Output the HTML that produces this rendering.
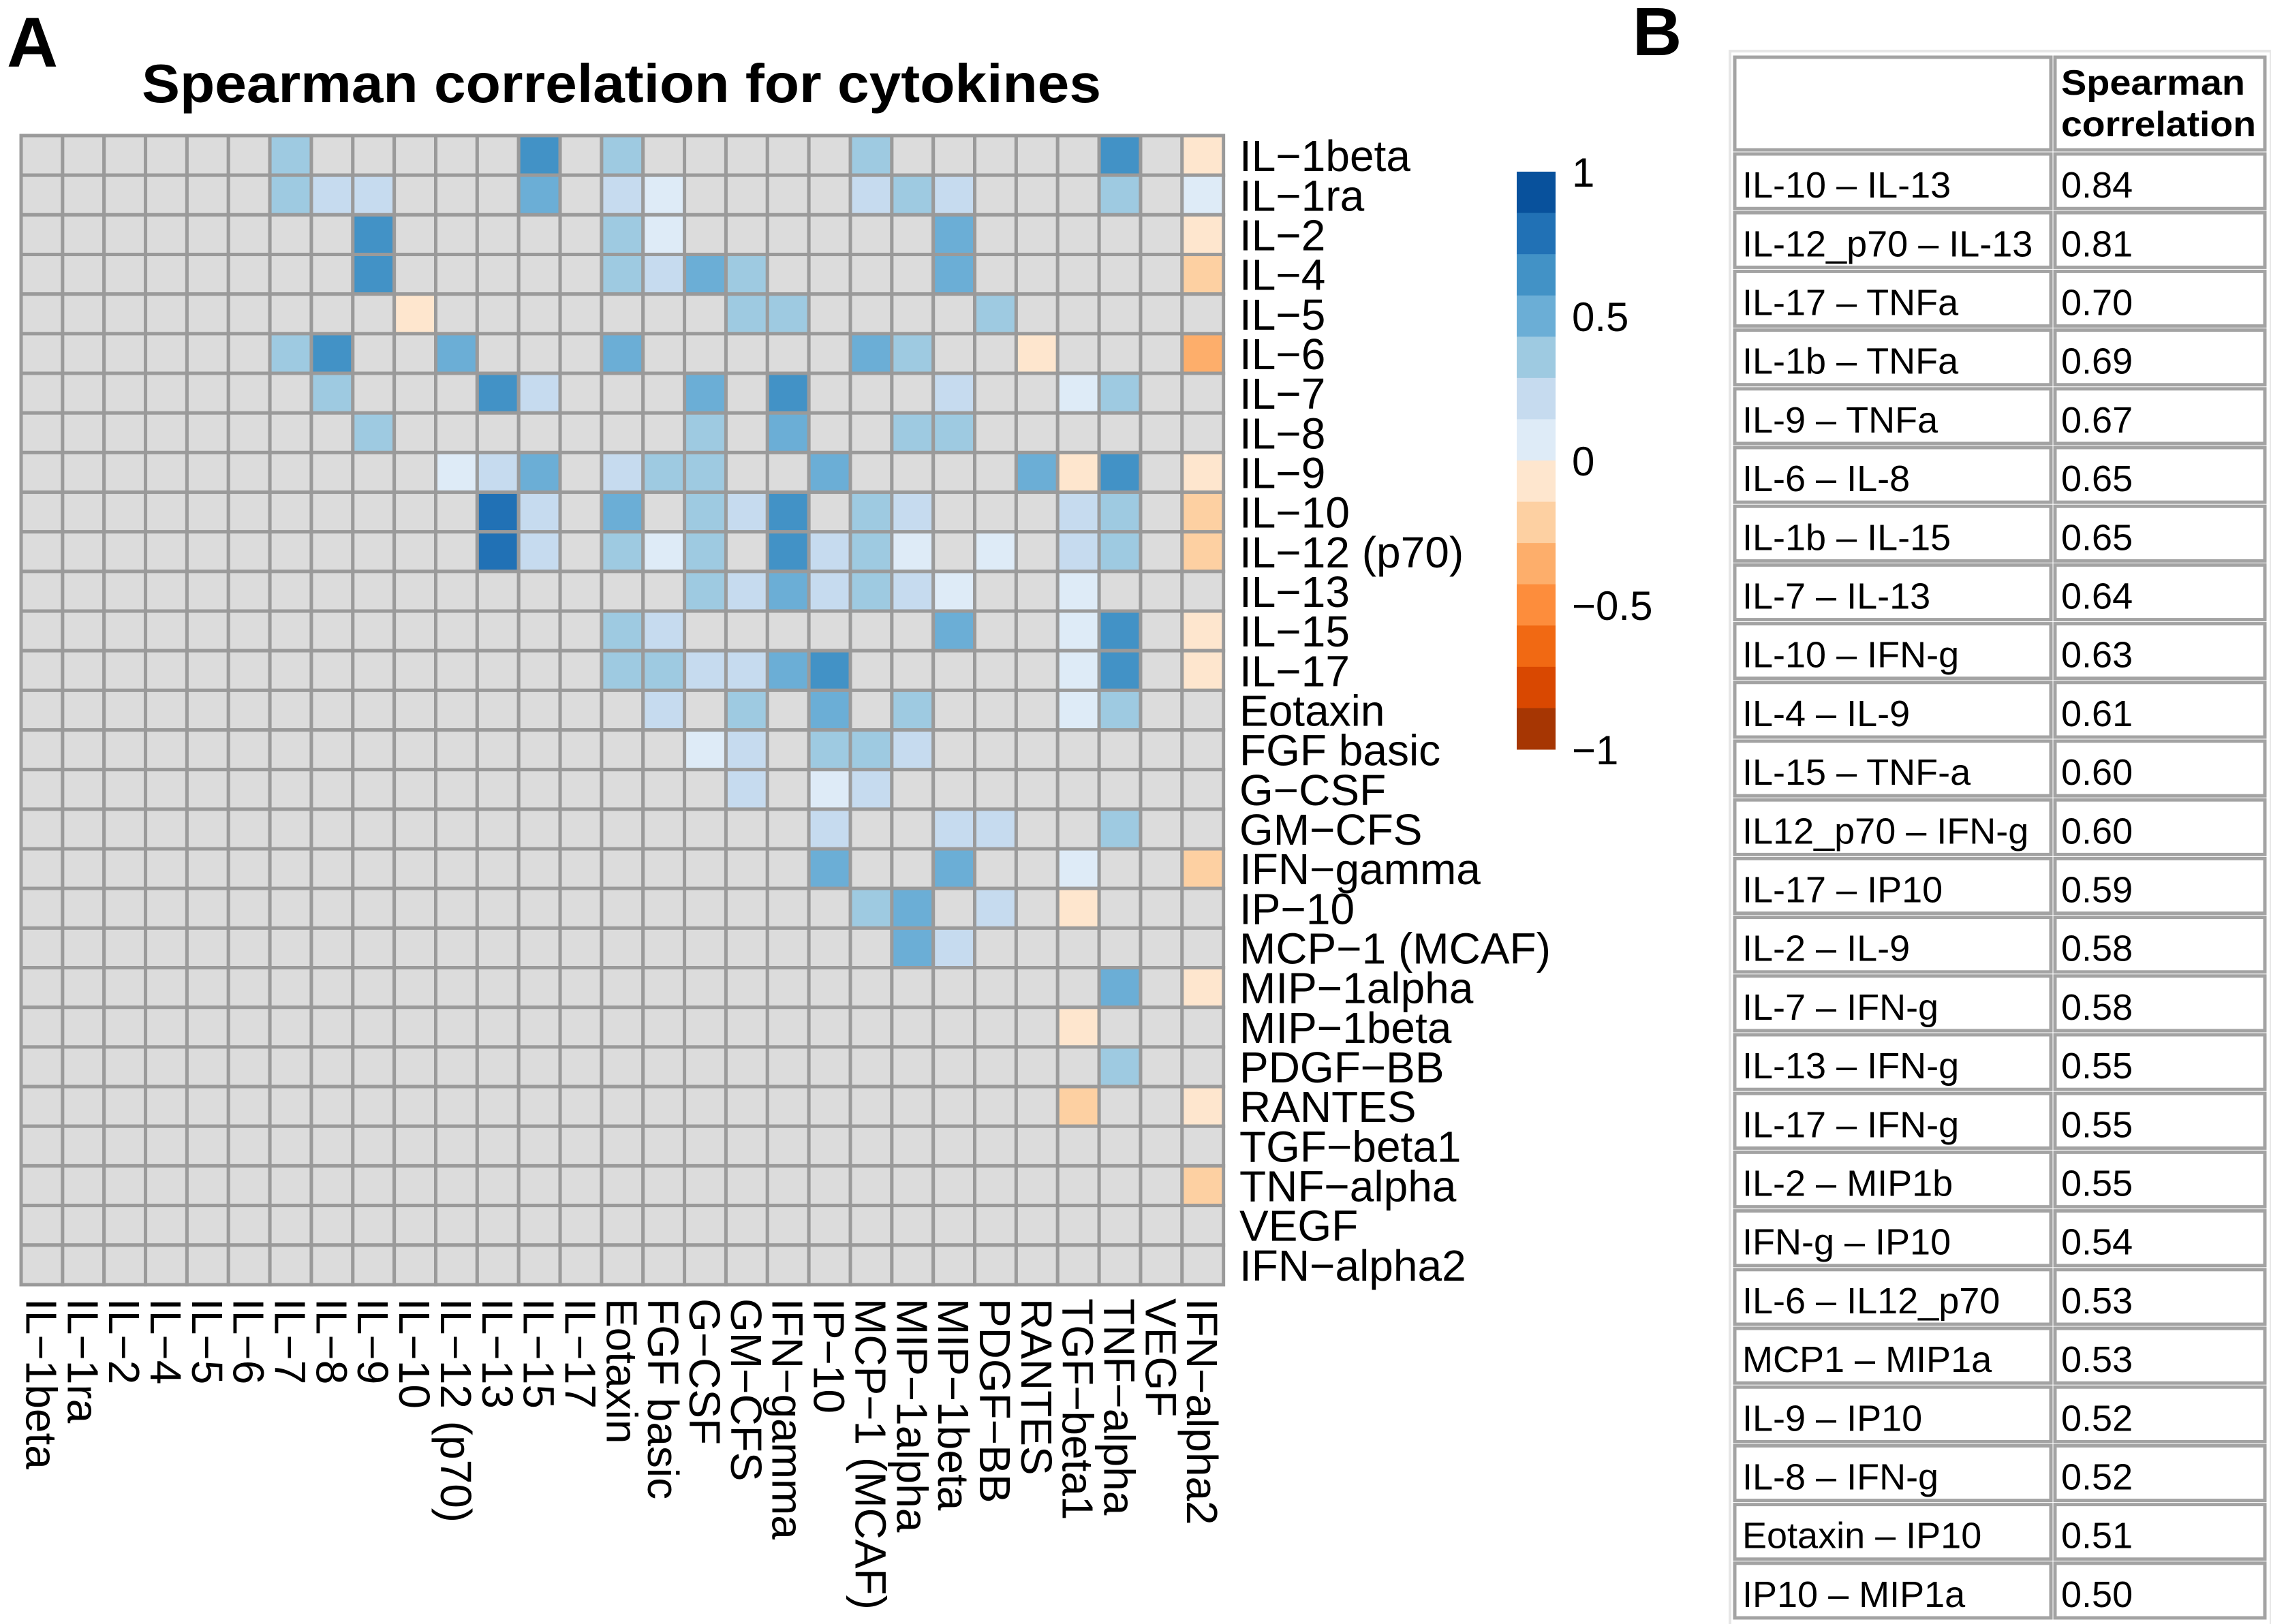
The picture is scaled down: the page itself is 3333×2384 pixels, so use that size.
<!DOCTYPE html>
<html><head><meta charset="utf-8"><style>
html,body{margin:0;padding:0;background:#fff;}
svg{display:block;font-family:"Liberation Sans",sans-serif;}
</style></head><body>
<svg id="fig" width="3333" height="2384" viewBox="0 0 3333 2384" xmlns="http://www.w3.org/2000/svg">
<text x="10" y="98" font-size="104" font-weight="bold">A</text>
<text x="2396" y="81" font-size="100" font-weight="bold">B</text>
<text x="208" y="150" font-size="80" font-weight="bold" textLength="1408" lengthAdjust="spacingAndGlyphs">Spearman correlation for cytokines</text>
<g id="heat"></g>
<g id="rowlabels"></g>
<g id="collabels"></g>
<g id="legend"></g>
<g id="table"></g>
</svg>
<script>
const cytokines = ["IL\u22121beta","IL\u22121ra","IL\u22122","IL\u22124","IL\u22125","IL\u22126","IL\u22127","IL\u22128","IL\u22129","IL\u221210","IL\u221212 (p70)","IL\u221213","IL\u221215","IL\u221217","Eotaxin","FGF basic","G\u2212CSF","GM\u2212CFS","IFN\u2212gamma","IP\u221210","MCP\u22121 (MCAF)","MIP\u22121alpha","MIP\u22121beta","PDGF\u2212BB","RANTES","TGF\u2212beta1","TNF\u2212alpha","VEGF","IFN\u2212alpha2"];
// per row: [columnIndex, correlation] for significant cells; others NA
const significant = [
 [[6,.35],[12,.65],[14,.35],[20,.35],[26,.65],[28,-.07]],
 [[6,.35],[7,.2],[8,.2],[12,.5],[14,.2],[15,.07],[20,.2],[21,.35],[22,.2],[26,.35],[28,.07]],
 [[8,.65],[14,.35],[15,.07],[22,.5],[28,-.07]],
 [[8,.65],[14,.35],[15,.2],[16,.5],[17,.35],[22,.5],[28,-.2]],
 [[9,-.07],[17,.35],[18,.35],[23,.35]],
 [[6,.35],[7,.65],[10,.5],[14,.5],[20,.5],[21,.35],[24,-.07],[28,-.35]],
 [[7,.35],[11,.65],[12,.2],[16,.5],[18,.65],[22,.2],[25,.07],[26,.35]],
 [[8,.35],[16,.35],[18,.5],[21,.35],[22,.35]],
 [[10,.07],[11,.2],[12,.5],[14,.2],[15,.35],[16,.35],[19,.5],[24,.5],[25,-.07],[26,.65],[28,-.07]],
 [[11,.8],[12,.2],[14,.5],[16,.35],[17,.2],[18,.65],[20,.35],[21,.2],[25,.2],[26,.35],[28,-.2]],
 [[11,.8],[12,.2],[14,.35],[15,.07],[16,.35],[18,.65],[19,.2],[20,.35],[21,.07],[23,.07],[25,.2],[26,.35],[28,-.2]],
 [[16,.35],[17,.2],[18,.5],[19,.2],[20,.35],[21,.2],[22,.07],[25,.07]],
 [[14,.35],[15,.2],[22,.5],[25,.07],[26,.65],[28,-.07]],
 [[14,.35],[15,.35],[16,.2],[17,.2],[18,.5],[19,.65],[25,.07],[26,.65],[28,-.07]],
 [[15,.2],[17,.35],[19,.5],[21,.35],[25,.07],[26,.35]],
 [[16,.07],[17,.2],[19,.35],[20,.35],[21,.2]],
 [[17,.2],[19,.07],[20,.2]],
 [[19,.2],[22,.2],[23,.2],[26,.35]],
 [[19,.5],[22,.5],[25,.07],[28,-.2]],
 [[20,.35],[21,.5],[23,.2],[25,-.07]],
 [[21,.5],[22,.2]],
 [[26,.5],[28,-.07]],
 [[25,-.07]],
 [[26,.35]],
 [[25,-.2],[28,-.07]],
 [],
 [[28,-.2]],
 [],
 []
];
const legendColors = ["#08519C","#2171B5","#4292C6","#6BAED6","#9ECAE1","#C6DBEF","#DEEBF7","#FEE6CE","#FDD0A2","#FDAE6B","#FD8D3C","#F16913","#D94801","#A63603"];
const legendTicks = [1,0.5,0,-0.5,-1];
const legendTickLabels = ["1","0.5","0","\u22120.5","\u22121"];
const tablePairs = ["IL-10 \u2013 IL-13","IL-12_p70 \u2013 IL-13","IL-17 \u2013 TNFa","IL-1b \u2013 TNFa","IL-9 \u2013 TNFa","IL-6 \u2013 IL-8","IL-1b \u2013 IL-15","IL-7 \u2013 IL-13","IL-10 \u2013 IFN-g","IL-4 \u2013 IL-9","IL-15 \u2013 TNF-a","IL12_p70 \u2013 IFN-g","IL-17 \u2013 IP10","IL-2 \u2013 IL-9","IL-7 \u2013 IFN-g","IL-13 \u2013 IFN-g","IL-17 \u2013 IFN-g","IL-2 \u2013 MIP1b","IFN-g \u2013 IP10","IL-6 \u2013 IL12_p70","MCP1 \u2013 MIP1a","IL-9 \u2013 IP10","IL-8 \u2013 IFN-g","Eotaxin \u2013 IP10","IP10 \u2013 MIP1a"];
const tableValues = ["0.84","0.81","0.70","0.69","0.67","0.65","0.65","0.64","0.63","0.61","0.60","0.60","0.59","0.58","0.58","0.55","0.55","0.55","0.54","0.53","0.53","0.52","0.52","0.51","0.50"];

const NS="http://www.w3.org/2000/svg";
function mk(tag, attrs, parent){const e=document.createElementNS(NS,tag);for(const k in attrs)e.setAttribute(k,attrs[k]);parent.appendChild(e);return e;}
const X0=31, Y0=199, CW=60.85, RH=58.17, N=cytokines.length;
const xCol = c => X0 + c*CW;
const yRow = r => Y0 + r*RH;
function colorFor(v){
  if(v===null||v===undefined) return "#DCDCDC";
  let i=Math.floor((1-v)/(2/legendColors.length));
  i=Math.max(0,Math.min(legendColors.length-1,i));
  return legendColors[i];
}
const heat=document.getElementById('heat');
for(let r=0;r<N;r++){
  const m={}; (significant[r]||[]).forEach(p=>m[p[0]]=p[1]);
  for(let c=0;c<N;c++){
    const rc=mk('rect',{x:xCol(c),y:yRow(r),width:CW,height:RH,fill:colorFor(m[c]),stroke:"#9A9A9A","stroke-width":5},heat);
    
    
  }
}
const rl=document.getElementById('rowlabels');
cytokines.forEach((n,r)=>{
  const t=mk('text',{x:1819,y:yRow(r)+RH/2+23,"font-size":64},rl);
  t.textContent=n;
  
  
});
const cl=document.getElementById('collabels');
cytokines.forEach((n,c)=>{
  const cx=xCol(c)+CW/2-23, cy=1906;
  const t=mk('text',{x:cx,y:cy,"font-size":64,transform:`rotate(90 ${cx} ${cy})`},cl);
  t.textContent=n;
  
  
});
const lg=document.getElementById('legend');
const LX=2226, LW=57, LT=252, LB=1100;
const bh=(LB-LT)/legendColors.length;
legendColors.forEach((col,i)=>{
  const r=mk('rect',{x:LX,y:LT+i*bh,width:LW,height:bh+0.5,fill:col},lg);
  
  
});
const ly = v => LT + (1-v)/2*(LB-LT);
legendTicks.forEach((v,i)=>{
  const t=mk('text',{x:2307,y:ly(v)+22,"font-size":60},lg);
  t.textContent=legendTickLabels[i];
  
  
});
const tb=document.getElementById('table');
const TX=2543, TD=3013, TR=3327, TT=81, TH=223, RHT=86.2;
mk('rect',{x:TX-4,y:TT-6,width:TR-TX+10,height:2384-TT+10,fill:"none",stroke:"#E6E6E6","stroke-width":4},tb);
function cell(x,y,w,h,name){
  const r=mk('rect',{x:x+3,y:y+3,width:w-6,height:h-6,fill:"#fff",stroke:"#A3A3A3","stroke-width":5},tb);
  
  
}
cell(TX,TT,TD-TX,TH-TT,'table-header-empty');
cell(TD,TT,TR-TD,TH-TT,'table-header-value');
const h1=mk('text',{x:3025,y:139,"font-size":52,"font-weight":"bold",textLength:"270",lengthAdjust:"spacingAndGlyphs"},tb);
h1.textContent="Spearman";


const h2=mk('text',{x:3025,y:200,"font-size":52,"font-weight":"bold",textLength:"286",lengthAdjust:"spacingAndGlyphs"},tb);
h2.textContent="correlation";


tablePairs.forEach((p,i)=>{
  const y=TH+i*RHT;
  cell(TX,y,TD-TX,RHT,'table-pair-cell');
  cell(TD,y,TR-TD,RHT,'table-value-cell');
  const t=mk('text',{x:2557,y:y+RHT/2+24,"font-size":54},tb);
  t.textContent=p;
  
  
  const v=mk('text',{x:3025,y:y+RHT/2+24,"font-size":54},tb);
  v.textContent=tableValues[i];
  
  
});
</script>
</body></html>
